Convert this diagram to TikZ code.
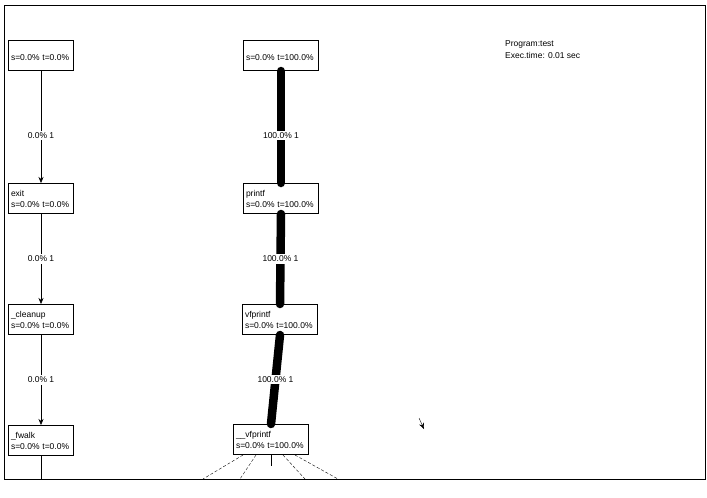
\documentclass[tikz,border=0pt]{standalone}
\usepackage{fontspec}
\setmainfont{Liberation Sans}
\usepackage{tikz}
\usetikzlibrary{arrows.meta}

\begin{document}
\begin{tikzpicture}[x=1pt, y=-1pt, >={Stealth[length=6pt, width=5pt]},
  fbox/.style={draw, line width=1pt, anchor=north west, inner ysep=0pt, inner xsep=2.5pt,
    align=left, minimum height=30pt, font=\fontsize{8.5}{11}\selectfont},
  lbox/.style={fbox, text width=60pt},
  cbox/.style={fbox, text width=70pt},
  elabel/.style={fill=white, inner sep=1.5pt, font=\fontsize{8.5}{11}\selectfont},
  hot/.style={line width=8.5pt, line cap=round},
  cold/.style={dash pattern=on 3pt off 2pt}]
\useasboundingbox (0,0) rectangle (707,498);
\draw (4,5) rectangle (705,479);
% left chain
\node[lbox] (lTop)     at (8,40)  {\mbox{}\\s=0.0\% t=0.0\%};
\node[lbox] (lExit)    at (8,183) {exit\\s=0.0\% t=0.0\%};
\node[lbox] (lCleanup) at (8,304) {\_cleanup\\s=0.0\% t=0.0\%};
\node[lbox] (lFwalk)   at (8,425) {\_fwalk\\s=0.0\% t=0.0\%};
\draw[->] (lTop) -- (lExit) node[elabel, pos=0.58] {0.0\% 1};
\draw[->] (lExit) -- (lCleanup) node[elabel, midway] {0.0\% 1};
\draw[->] (lCleanup) -- (lFwalk) node[elabel, midway] {0.0\% 1};
\coordinate (lOut) at (lFwalk.south |- 0,479);
\draw (lFwalk) -- (lOut);
% hot path
\node[cbox] (cTop)       at (243,40)  {\mbox{}\\s=0.0\% t=100.0\%};
\node[cbox] (cPrintf)    at (243,183) {printf\\s=0.0\% t=100.0\%};
\node[cbox] (cVfprintf)  at (242,304) {vfprintf\\s=0.0\% t=100.0\%};
\node[cbox] (cVfprintfI) at (233,424) {\_\_vfprintf\\s=0.0\% t=100.0\%};
\draw[hot] (cTop.south) -- (cPrintf.north) node[elabel, pos=0.58] {100.0\% 1};
\draw[hot] (cPrintf.south) -- (cVfprintf.north) node[elabel, midway] {100.0\% 1};
\draw[hot] (cVfprintf.south) -- (cVfprintfI.north) node[elabel, midway] {100.0\% 1};
% leaving the page
\coordinate (d1) at (203,479);
\coordinate (d2) at (240,479);
\coordinate (d3) at (305,479);
\coordinate (d4) at (338,479);
\coordinate (s1) at (cVfprintfI.south |- 0,466);
\draw (cVfprintfI.south) -- (s1);
\draw[cold] ([xshift=-28pt]cVfprintfI.south) -- (d1);
\draw[cold] ([xshift=-15pt]cVfprintfI.south) -- (d2);
\draw[cold] ([xshift=12pt]cVfprintfI.south) -- (d3);
\draw[cold] ([xshift=24pt]cVfprintfI.south) -- (d4);
% legend
\node[anchor=north west, align=left, inner sep=0pt, font=\fontsize{8.5}{12}\selectfont]
  (legend) at (505,40) {Program:test\\Exec.time: 0.01 sec};
\draw[->] (419,418) -- (424,429);
\end{tikzpicture}
\end{document}
